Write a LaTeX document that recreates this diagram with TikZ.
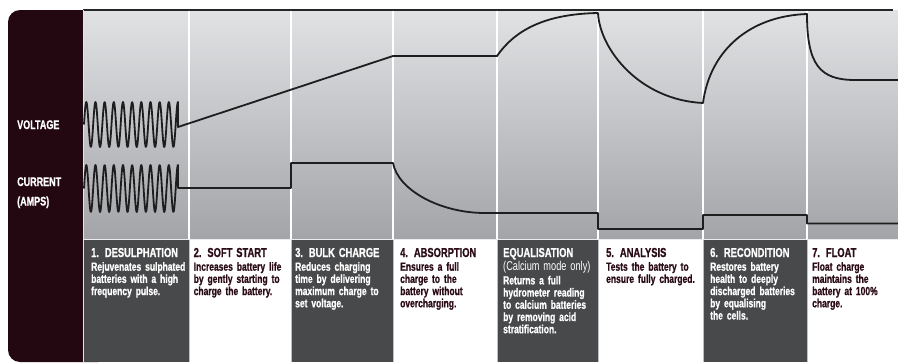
\documentclass[tikz,border=0pt]{standalone}
\usepackage{fontspec}
\setmainfont{Liberation Sans}
\newfontfamily\cond[FakeStretch=0.72, BoldFeatures={FakeBold=0.8}]{Liberation Sans}

\definecolor{panelcol}{RGB}{35,8,17}
\definecolor{cellgray}{RGB}{72,73,75}
\definecolor{inkred}{RGB}{43,12,22}
\definecolor{gridtop}{RGB}{225,226,228}
\definecolor{gridmid}{RGB}{213,214,217}
\definecolor{gridbot}{RGB}{163,164,168}
\definecolor{curvecol}{RGB}{30,30,30}
\definecolor{seamcol}{RGB}{190,191,194}

\tikzstyle{curve} = [draw, line width=1.8pt, curvecol, line join=round]
\tikzstyle{gridline} = [draw, line width=1.1pt, white]
\tikzstyle{seam} = [draw, line width=0.8pt, seamcol]
\tikzstyle{axislabel} = [anchor=base west, inner sep=0pt, white, text width=70pt, align=left, font=\cond\bfseries\fontsize{12.5}{19.5}\selectfont]
\tikzstyle{stagetext} = [anchor=base west, inner sep=0pt, text width=104pt, align=left, font=\cond\bfseries\fontsize{11.8}{12.2}\selectfont]

\newcommand{\stagetitle}[1]{{\fontsize{13}{12}\selectfont #1}\\[1.5pt]}
\newcommand{\stagenote}[1]{{\mdseries\fontsize{12.8}{12}\selectfont #1}\\[1.5pt]}

\begin{document}
\begin{tikzpicture}[x=1pt, y=-1pt]
    \useasboundingbox (0,0) rectangle (898,362);
    % left panel and graph area
    \fill[panelcol, rounded corners=12pt] (8,10) rectangle (110,362);
    \shade[top color=gridtop, middle color=gridmid, bottom color=gridbot] (83.5,10) rectangle (898,240);
    \draw[line width=1.2pt, black!85] (83,10) -- (893,10);
    \draw[line width=1pt, white!80!gray] (83,10) -- (83,362);

    % stage cells with their texts
    \foreach \n/\xl/\xr/\bg/\fg/\tx/\txt in {
        1/83.5/189/cellgray/white/91/{\stagetitle{1. DESULPHATION}Rejuvenates sulphated\\batteries with a high\\frequency pulse.},
        2/189/291/white/inkred/193.5/{\stagetitle{2. SOFT START}Increases battery life\\by gently starting to\\charge the battery.},
        3/291/393/cellgray/white/295/{\stagetitle{3. BULK CHARGE}Reduces charging\\time by delivering\\maximum charge to\\set voltage.},
        4/393/497/white/inkred/400/{\stagetitle{4. ABSORPTION}Ensures a full\\charge to the\\battery without\\overcharging.},
        E/497/598/cellgray/white/503/{\stagetitle{EQUALISATION}\stagenote{(Calcium mode only)}Returns a full\\hydrometer reading\\to calcium batteries\\by removing acid\\stratification.},
        5/598/703/white/inkred/606/{\stagetitle{5. ANALYSIS}Tests the battery to\\ensure fully charged.},
        6/703/807/cellgray/white/710/{\stagetitle{6. RECONDITION}Restores battery\\health to deeply\\discharged batteries\\by equalising\\the cells.},
        7/807/898/white/inkred/812/{\stagetitle{7. FLOAT}Float charge\\maintains the\\battery at 100\%\\charge.}}
    {
        \fill[fill=\bg] (\xl,240) rectangle (\xr,362);
        \node[stagetext, text=\fg] (stage\n) at (\tx,257) {\txt};
    }

    % column dividers
    \foreach \xc in {189, 291, 393, 497, 598, 703, 807}
    {
        \path[gridline] (\xc,10.6) -- (\xc,239);
        \path[seam] (\xc,240) -- (\xc,362);
    }
    \draw[line width=0.8pt, white!85!gray] (83.5,239.5) -- (898,239.5);

    % axis labels
    \node[axislabel] (voltage) at (17,129) {VOLTAGE};
    \node[axislabel] (current) at (17,186) {CURRENT\\(AMPS)};

    % voltage trace
    \path[curve] plot[domain=0:10.25, samples=240] ({84+\x*9.17},{124.5-22.5*sin(\x*360)})
        -- (178,127) -- (393,56) -- (497,56)
        .. controls (515,30) and (545,14) .. (598,13)
        .. controls (600,50) and (640,100) .. (703,103)
        .. controls (710,50) and (750,16) .. (807,14)
        .. controls (807,65) and (820,80) .. (855,80) -- (898,80);
    % current trace
    \path[curve] plot[domain=0:10.25, samples=240] ({84+\x*9.17},{188.5-23.5*sin(\x*360)})
        -- (178,188) -- (291,188) -- (291,163) -- (393,163)
        .. controls (398,190) and (440,213) .. (485,213)
        -- (598,213) -- (598,229) -- (703,229) -- (703,215)
        -- (807,215) -- (807,223.5) -- (898,223.5);
\end{tikzpicture}
\end{document}
